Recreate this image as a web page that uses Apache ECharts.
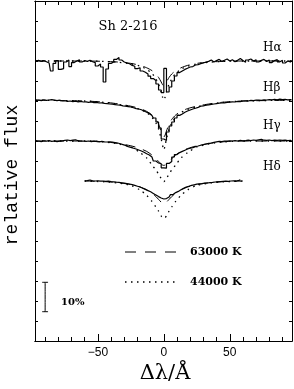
<!DOCTYPE html>
<html>
<head>
<meta charset="utf-8">
<script src="https://cdn.jsdelivr.net/npm/echarts@6/dist/echarts.min.js"></script>
<style>html,body{margin:0;padding:0;background:#fff;}#c{width:294px;height:389px;}</style>
</head>
<body>
<div id="c"></div>
<script>
// ---- data (y in units of the y tick spacing; 10% of flux = 1.47 units) ----
const obsX = [-97,-95,-93,-91,-89,-87,-85,-83,-81,-79,-77,-75,-73,-71,-69,-67,-65,-63,-61,-59,-57,-55,-53,-51,-49,-47,-45,-43,-41,-39,-37,-35,-33,-31,-29,-27,-25,-23,-21,-19,-17,-15,-13,-11,-9,-7,-5,-3,-1,1,3,5,7,9,11,13,15,17,19,21,23,25,27,29,31,33,35,37,39,41,43,45,47,49,51,53,55,57,59,61,63,65,67,69,71,73,75,77,79,81,83,85,87,89,91,93,95,97];
const hAlphaObs = [14.00,14.03,13.98,14.02,13.96,13.90,13.50,13.88,14.02,13.58,13.62,13.95,14.05,13.72,13.92,14.00,14.06,13.95,14.02,13.98,14.04,13.96,13.92,13.75,13.85,13.70,12.95,13.60,13.88,13.95,14.08,14.18,14.05,13.95,13.90,13.86,13.78,13.74,13.62,13.66,13.50,13.44,13.35,13.24,13.12,13.02,12.85,12.55,12.42,13.63,12.45,12.70,13.00,13.25,13.42,13.50,13.58,13.64,13.70,13.72,13.80,13.82,13.86,13.90,13.95,13.98,14.05,13.95,14.02,14.08,13.98,14.04,14.10,14.00,14.06,13.96,14.04,14.12,14.02,13.94,14.05,14.10,14.00,14.06,13.95,14.03,14.08,13.98,14.05,13.92,14.02,14.07,13.96,14.03,13.90,14.00,13.95,14.02];
const hBetaObs = [12.02,12.05,12.02,12.06,12.03,12.05,12.07,12.04,12.02,12.04,12.00,12.02,11.98,12.00,11.97,11.99,11.96,11.98,11.95,11.96,11.93,11.95,11.92,11.93,11.90,11.91,11.88,11.87,11.85,11.84,11.82,11.80,11.79,11.76,11.74,11.72,11.70,11.66,11.62,11.60,11.56,11.50,11.44,11.38,11.28,11.15,10.95,10.65,10.10,10.02,10.45,10.75,10.95,11.15,11.28,11.35,11.44,11.50,11.55,11.60,11.64,11.68,11.74,11.76,11.79,11.81,11.83,11.85,11.87,11.89,11.90,11.91,11.93,11.94,11.96,11.95,11.98,11.97,12.00,12.01,12.00,12.03,12.02,12.04,12.05,12.03,12.06,12.05,12.07,12.06,12.08,12.06,12.09,12.07,12.08,12.06,12.07,12.05];
const hGammaObs = [9.98,10.00,9.97,10.01,9.99,10.02,9.98,10.00,9.97,9.99,10.01,10.03,10.05,10.02,10.04,10.06,10.01,9.99,10.00,9.98,10.00,9.97,9.99,9.98,9.96,9.98,9.96,9.95,9.96,9.94,9.92,9.90,9.86,9.82,9.78,9.72,9.68,9.64,9.60,9.55,9.50,9.44,9.36,9.30,9.20,9.00,8.90,8.86,8.66,8.64,8.88,8.98,9.20,9.32,9.42,9.48,9.54,9.60,9.64,9.67,9.72,9.75,9.79,9.82,9.85,9.88,9.90,9.93,9.96,9.98,9.97,10.00,9.99,10.01,10.00,10.02,10.00,10.03,10.01,10.02,10.04,10.02,10.05,10.03,10.06,10.08,10.04,10.03,10.05,10.02,10.04,10.03,10.05,10.03,10.04,10.02,10.03,10.01];
const hDeltaX = [-60,-58,-56,-54,-52,-50,-48,-46,-44,-42,-40,-38,-36,-34,-32,-30,-28,-26,-24,-22,-20,-18,-16,-14,-12,-10,-8,-6,-4,-2,0,2,4,6,8,10,12,14,16,18,20,22,24,26,28,30,32,34,36,38,40,42,44,46,48,50,52,54,56,58];
const hDeltaObs = [8.00,8.02,8.05,8.01,8.00,8.01,7.99,8.00,7.98,7.99,7.97,7.96,7.94,7.93,7.91,7.89,7.87,7.85,7.82,7.78,7.74,7.70,7.64,7.58,7.52,7.46,7.38,7.30,7.22,7.15,7.10,7.12,7.20,7.32,7.42,7.48,7.56,7.63,7.70,7.74,7.78,7.81,7.84,7.86,7.87,7.89,7.90,7.92,7.93,7.95,7.96,7.97,7.98,7.99,7.98,8.00,8.01,8.00,8.03,8.06];

const modelX = [-97,-60,-45,-35,-25,-18,-13,-9,-6,-4,-2,-1,0,1,2,4,6,9,13,18,25,35,45,60,97];
const hAlpha63k = [14.00,14.00,13.98,13.95,13.88,13.78,13.66,13.52,13.35,13.18,12.95,12.82,12.75,12.82,12.95,13.18,13.35,13.52,13.66,13.78,13.88,13.95,13.98,14.00,14.00];
const hAlpha44k = [14.00,14.00,13.98,13.94,13.86,13.74,13.58,13.38,13.10,12.85,12.45,12.20,12.05,12.20,12.45,12.85,13.10,13.38,13.58,13.74,13.86,13.94,13.98,14.00,14.00];
const hBeta63k  = [12.04,12.00,11.94,11.86,11.74,11.62,11.48,11.30,11.08,10.85,10.50,10.30,10.20,10.30,10.50,10.85,11.08,11.30,11.48,11.62,11.74,11.86,11.94,12.00,12.04];
const hBeta44k  = [12.04,12.00,11.93,11.84,11.71,11.57,11.42,11.18,10.90,10.60,10.10,9.80,9.55,9.80,10.10,10.60,10.90,11.18,11.42,11.57,11.71,11.84,11.93,12.00,12.04];
const hGamma63k = [10.00,10.00,9.96,9.88,9.76,9.62,9.48,9.30,9.12,8.98,8.85,8.80,8.78,8.80,8.85,8.98,9.12,9.30,9.48,9.62,9.76,9.88,9.96,10.00,10.00];
const hGamma44k = [10.00,10.00,9.95,9.86,9.70,9.42,9.15,8.80,8.55,8.35,8.12,8.03,7.97,8.03,8.12,8.35,8.55,8.80,9.15,9.42,9.70,9.86,9.95,10.00,10.00];
const hDeltaModelX = [-60,-45,-35,-25,-18,-13,-9,-6,-4,-2,-1,0,1,2,4,6,9,13,18,25,35,45,60];
const hDelta63k = [8.00,7.97,7.92,7.82,7.70,7.56,7.40,7.22,7.08,6.94,6.88,6.85,6.88,6.94,7.08,7.22,7.40,7.56,7.70,7.82,7.92,7.97,8.00];
const hDelta44k = [8.00,7.96,7.90,7.78,7.55,7.28,6.98,6.70,6.50,6.25,6.17,6.13,6.17,6.25,6.50,6.70,6.98,7.28,7.55,7.78,7.90,7.96,8.00];

const xMajorTicks = [-50,0,50];
const xTickLabels = ['\u221250','0','50'];
const xMinorTicks = [-90,-80,-70,-60,-40,-30,-20,-10,10,20,30,40,60,70,80,90];
const scaleBarX = -90;
const scaleBarY = [1.465, 2.935]; // 10 %

const XMIN = -97.7, XMAX = 97.2;
const zip = (xs, ys) => xs.map((x, i) => [x, ys[i]]);

const chart = echarts.init(document.getElementById('c'), null, {renderer: 'canvas'});
const blk = '#000';
function xa(pos, ticks, len, labels) {
  return {
    type: 'value', position: pos, min: XMIN, max: XMAX,
    axisLine: {show: true, onZero: false, lineStyle: {color: blk, width: 1}},
    axisTick: {show: true, inside: true, length: len, customValues: ticks, lineStyle: {color: blk, width: 1}},
    axisLabel: labels ? {show: true, customValues: xMajorTicks, color: blk, fontFamily: 'Liberation Sans', fontSize: 12, margin: 6,
      formatter: v => xTickLabels[xMajorTicks.indexOf(v)]} : {show: false},
    splitLine: {show: false}
  };
}
function ya(pos) {
  return {
    type: 'value', position: pos, min: 0, max: 17, interval: 1,
    axisLine: {show: true, onZero: false, lineStyle: {color: blk, width: 1}},
    axisTick: {show: true, inside: true, length: 3, lineStyle: {color: blk, width: 1}},
    axisLabel: {show: false}, splitLine: {show: false}
  };
}
const obsStyle = {color: blk, width: 1.2};
const dashStyle = {color: blk, width: 1, type: [10, 8]};
const dotStyle = {color: blk, width: 1.3, type: [1.5, 4.5]};
function ser(data, style, step) {
  return {type: 'line', data: data, showSymbol: false, symbol: 'none', step: step || false, smooth: step ? false : 0.25,
    lineStyle: style, animation: false, silent: true, z: 3};
}
const series = [
  ser(zip(modelX, hAlpha44k), dotStyle), ser(zip(modelX, hAlpha63k), dashStyle), ser(zip(obsX, hAlphaObs), obsStyle, 'middle'),
  ser(zip(modelX, hBeta44k), dotStyle), ser(zip(modelX, hBeta63k), dashStyle), ser(zip(obsX, hBetaObs), obsStyle, 'middle'),
  ser(zip(modelX, hGamma44k), dotStyle), ser(zip(modelX, hGamma63k), dashStyle), ser(zip(obsX, hGammaObs), obsStyle, 'middle'),
  ser(zip(hDeltaModelX, hDelta44k), dotStyle), ser(zip(hDeltaModelX, hDelta63k), dashStyle), ser(zip(hDeltaX, hDeltaObs), obsStyle, 'middle'),
  // 10% scale bar
  ser([[scaleBarX, scaleBarY[0]], [scaleBarX, scaleBarY[1]]], {color: blk, width: 1}),
  ser([[scaleBarX - 2.2, scaleBarY[0]], [scaleBarX + 2.2, scaleBarY[0]]], {color: blk, width: 1}),
  ser([[scaleBarX - 2.2, scaleBarY[1]], [scaleBarX + 2.2, scaleBarY[1]]], {color: blk, width: 1})
];
const serif = 'DejaVu Serif';
function txt(x, y, s, size, opts) {
  return {type: 'text', x: x, y: y, style: Object.assign({text: s, fill: blk, font: size + 'px "' + serif + '"', textAlign: 'left', textVerticalAlign: 'middle'}, opts || {}), silent: true};
}
chart.setOption({
  animation: false,
  backgroundColor: '#fff',
  grid: {left: 35, right: 2, top: 1, bottom: 48, containLabel: false},
  xAxis: [xa('bottom', xMajorTicks, 7, true), xa('bottom', xMinorTicks, 4, null), xa('top', xMajorTicks, 7, null), xa('top', xMinorTicks, 4, null)],
  yAxis: [ya('left'), ya('right')],
  series: series,
  graphic: [
    txt(128, 27, 'Sh 2-216', 13, {textAlign: 'center'}),
    txt(263, 48, 'H\u03b1', 12),
    txt(263, 88, 'H\u03b2', 12),
    txt(263, 126, 'H\u03b3', 12),
    txt(263, 167, 'H\u03b4', 12),
    {type: 'line', shape: {x1: 125, y1: 252, x2: 177, y2: 252}, style: {stroke: blk, lineWidth: 1, lineDash: [11, 9]}, silent: true},
    {type: 'line', shape: {x1: 125, y1: 282, x2: 175, y2: 282}, style: {stroke: blk, lineWidth: 1.3, lineDash: [1.5, 4.5]}, silent: true},
    txt(190, 252, '63000 K', 11, {font: 'bold 11px "' + serif + '"'}),
    txt(190, 282, '44000 K', 11, {font: 'bold 11px "' + serif + '"'}),
    txt(61, 302, '10%', 10, {font: 'bold 10px "' + serif + '"'}),
    txt(165, 374, '\u0394\u03bb/\u00c5', 21, {textAlign: 'center'}),
    {type: 'text', x: 12, y: 175, rotation: Math.PI / 2, style: {text: 'relative flux', fill: blk, font: '18px "Liberation Mono"', textAlign: 'center', textVerticalAlign: 'middle'}, silent: true}
  ]
});
</script>
</body>
</html>
